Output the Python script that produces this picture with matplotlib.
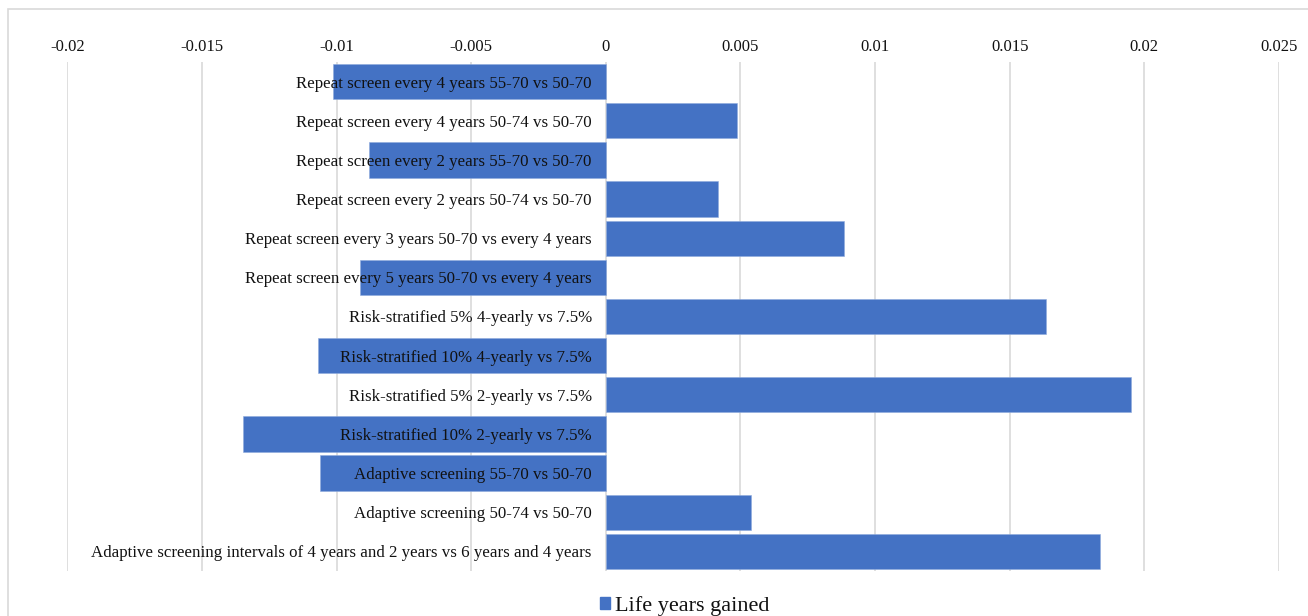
import matplotlib
matplotlib.use("Agg")
import matplotlib.pyplot as plt
import matplotlib.transforms as mtransforms
from matplotlib.patches import Rectangle, Patch

# Comparisons (top to bottom) and incremental life years gained
categories = [
    "Repeat screen every 4 years 55-70 vs 50-70",
    "Repeat screen every 4 years 50-74 vs 50-70",
    "Repeat screen every 2 years 55-70 vs 50-70",
    "Repeat screen every 2 years 50-74 vs 50-70",
    "Repeat screen every 3 years 50-70 vs every 4 years",
    "Repeat screen every 5 years 50-70 vs every 4 years",
    "Risk-stratified 5% 4-yearly vs 7.5%",
    "Risk-stratified 10% 4-yearly vs 7.5%",
    "Risk-stratified 5% 2-yearly vs 7.5%",
    "Risk-stratified 10% 2-yearly vs 7.5%",
    "Adaptive screening 55-70 vs 50-70",
    "Adaptive screening 50-74 vs 50-70",
    "Adaptive screening intervals of 4 years and 2 years vs 6 years and 4 years",
]
life_years_gained = [
    -0.01013, 0.00486, -0.00880, 0.00418, 0.00885, -0.00913,
    0.01633, -0.01069, 0.01951, -0.01347, -0.01063, 0.00539, 0.01837,
]
x_ticks = [-0.02, -0.015, -0.01, -0.005, 0, 0.005, 0.01, 0.015, 0.02, 0.025]
x_tick_labels = ["-0.02", "-0.015", "-0.01", "-0.005", "0",
                 "0.005", "0.01", "0.015", "0.02", "0.025"]
series_name = "Life years gained"

BAR_COLOR = "#4472C4"
GRID_COLOR = "#D9D9D9"
TEXT_COLOR = "#111111"
FONT = ["Liberation Serif", "DejaVu Serif"]

W, H = 1308, 616
fig = plt.figure(figsize=(W / 100, H / 100), dpi=100)
fig.patch.set_facecolor("white")

# light chart-area frame
fig.patches.append(Rectangle((7.5 / W, -0.1), 1.2, 1 - 8.5 / H + 0.1,
                             transform=fig.transFigure, fill=False,
                             edgecolor="#D9D9D9", linewidth=1.2))

ax = fig.add_axes([67.3 / W, 1 - 571 / H, (1279 - 67.3) / W, (571 - 62) / H])
ypos = list(range(len(categories)))
ax.barh(ypos, life_years_gained, height=0.9, color=BAR_COLOR,
        edgecolor="#8FAADC", linewidth=0.4, zorder=2)
ax.set_ylim(len(categories) - 0.5, -0.5)
ax.set_xlim(-0.02, 0.025)

ax.set_xticks(x_ticks)
ax.set_xticklabels(x_tick_labels, fontfamily=FONT, fontsize=12, color=TEXT_COLOR)
ax.xaxis.set_ticks_position("top")
ax.xaxis.set_label_position("top")
ax.tick_params(axis="x", length=0, pad=5)
ax.set_yticks([])
for s in ax.spines.values():
    s.set_visible(False)
ax.grid(axis="x", color=GRID_COLOR, linewidth=1.2, zorder=0)
ax.set_axisbelow(True)

# category labels sit just left of the zero line, over the bars
offset = mtransforms.offset_copy(ax.transData, fig=fig, x=-14, y=-2, units="dots")
for y, name in zip(ypos, categories):
    ax.text(0, y, name, transform=offset, ha="right", va="center",
            fontfamily=FONT, fontsize=12.2, color=TEXT_COLOR, zorder=3)

handle = Patch(facecolor=BAR_COLOR, edgecolor=BAR_COLOR)
fig.legend([handle], [series_name], loc="center", bbox_to_anchor=(685 / W, 1 - 606 / H),
           frameon=False, prop={"family": FONT, "size": 16},
           handlelength=0.45, handleheight=0.45, handletextpad=0.22,
           labelcolor=TEXT_COLOR)

fig.savefig("out.png", dpi=100, facecolor="white")
